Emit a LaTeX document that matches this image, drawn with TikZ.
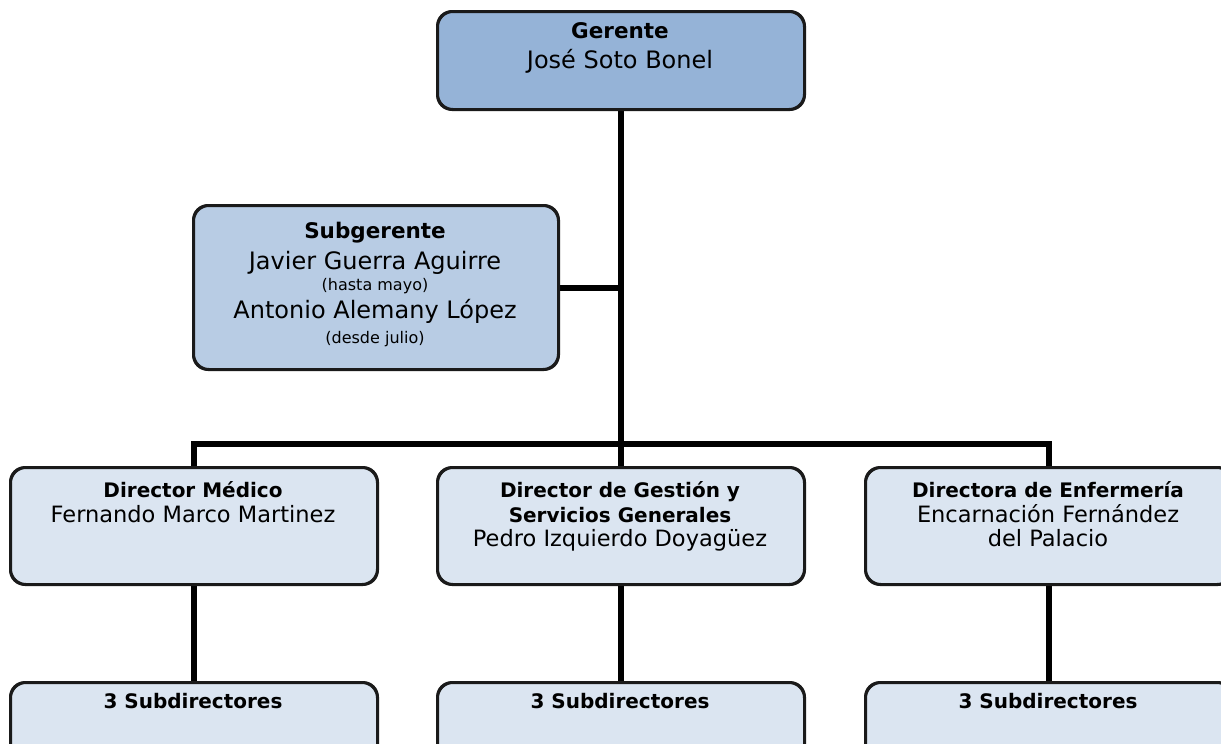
\documentclass[tikz,border=0pt]{standalone}
\usepackage{fontspec}
\setmainfont{DejaVu Sans}
\definecolor{gfill}{HTML}{95B3D7}
\definecolor{sfill}{HTML}{B8CCE4}
\definecolor{dfill}{HTML}{DBE5F1}
\definecolor{edge}{HTML}{1A1A1A}
\newcommand{\fTopReg}{\fontsize{24}{28}\selectfont}
\newcommand{\fTopBold}{\fontsize{21.5}{26}\selectfont\bfseries}
\newcommand{\fReg}{\fontsize{22.5}{27}\selectfont}
\newcommand{\fBold}{\fontsize{20}{24}\selectfont\bfseries}
\newcommand{\fSmall}{\fontsize{16}{19}\selectfont}
\begin{document}
\begin{tikzpicture}[x=1pt,y=-1pt,
  box/.style={draw=edge, line width=2pt, rounded corners=15pt, inner sep=0pt, anchor=north west, minimum width=366pt},
  conn/.style={line width=6pt, line join=miter, line cap=butt, draw=black},
  txt/.style={anchor=base, inner sep=0pt, text=black}]
\useasboundingbox (0,0) rectangle (1221,744);
\clip (0,0) rectangle (1221,744);
% boxes
\coordinate (hl) at (620,444);
\node[box, fill=gfill, minimum height=97pt] (ger) at (437,11) {};
\node[box, fill=sfill, minimum width=364pt, minimum height=163pt] (sub) at (193,205) {};
\node[box, fill=dfill, minimum height=116pt] (dm) at (10,467) {};
\node[box, fill=dfill, minimum height=116pt] (dg) at (437,467) {};
\node[box, fill=dfill, minimum height=116pt] (de) at (865,467) {};
\node[box, fill=dfill, minimum height=120pt] (sm) at (10,682) {};
\node[box, fill=dfill, minimum height=120pt] (sg) at (437,682) {};
\node[box, fill=dfill, minimum height=120pt] (se) at (865,682) {};
% connectors
\draw[conn] (ger.south) -- (dg.north);
\draw[conn] (dm.north) |- (hl) -| (de.north);
\draw[conn] (sub.east) -- (sub.east -| ger.south);
\draw[conn] (dm.south) -- (sm.north);
\draw[conn] (dg.south) -- (sg.north);
\draw[conn] (de.south) -- (se.north);
% box borders on top of connectors
\foreach \n in {ger,sub,dm,dg,de,sm,sg,se}{
  \draw[edge, line width=2pt, rounded corners=15pt] (\n.north west) rectangle (\n.south east);
}
% texts
\node[txt] (t1) at (620,38) {\fTopBold Gerente};
\node[txt] (t2) at (620,68) {\fTopReg José Soto Bonel};
\node[txt] (s1) at (375,238) {\fTopBold Subgerente};
\node[txt] (s2) at (375,269) {\fTopReg Javier Guerra Aguirre};
\node[txt] (s3) at (375,290) {\fSmall (hasta mayo)};
\node[txt] (s4) at (375,318) {\fTopReg Antonio Alemany López};
\node[txt] (s5) at (375,343) {\fSmall (desde julio)};
\node[txt] (m1) at (193,497) {\fBold Director Médico};
\node[txt] (m2) at (193,522) {\fReg Fernando Marco Martinez};
\node[txt] (g1) at (620,497) {\fBold Director de Gestión y};
\node[txt] (g2) at (620,522) {\fBold Servicios Generales};
\node[txt] (g3) at (620,546) {\fReg Pedro Izquierdo Doyagüez};
\node[txt] (e1) at (1048,497) {\fBold Directora de Enfermería};
\node[txt] (e2) at (1048,522) {\fReg Encarnación Fernández};
\node[txt] (e3) at (1048,546) {\fReg del Palacio};
\node[txt] (x1) at (193,708) {\fBold 3 Subdirectores};
\node[txt] (x2) at (620,708) {\fBold 3 Subdirectores};
\node[txt] (x3) at (1048,708) {\fBold 3 Subdirectores};
\end{tikzpicture}
\end{document}
